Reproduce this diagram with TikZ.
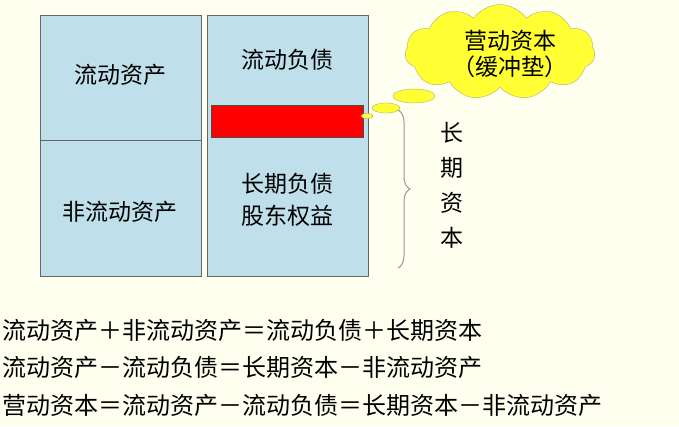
\documentclass[tikz,border=0pt]{standalone}
\usepackage{fontspec}
\setmainfont{Noto Sans CJK SC}
\usetikzlibrary{shapes.symbols,shapes.geometric,decorations.pathreplacing}
\definecolor{bg}{HTML}{FFFFF0}
\definecolor{boxc}{HTML}{BFE0EA}
\definecolor{cloudc}{HTML}{FFFF33}
\begin{document}
\begin{tikzpicture}[x=1pt,y=-1pt,
  blk/.style={draw=gray!80!black,fill=boxc,line width=0.8pt},
  lbl/.style={font=\fontsize{23}{26}\selectfont,inner sep=0pt},
  frm/.style={font=\fontsize{24}{26}\selectfont,inner sep=0pt,anchor=west},
  puff/.style={draw=gray!70!yellow,fill=cloudc,ellipse,inner sep=0pt}]
\fill[bg] (0,0) rectangle (679,426);
\useasboundingbox (0,0) rectangle (679,426);
\draw[blk] (40,15) rectangle (201,140) coordinate (lt);
\draw[blk] (40,140) rectangle (201,276);
\draw[blk] (207,15) rectangle (368,276);
\draw[draw=gray!60!black,fill=red,line width=0.8pt] (211,105) rectangle (363,137);
\node[lbl] (a) at (120,75) {流动资产};
\node[lbl] (b) at (120,212) {非流动资产};
\node[lbl] (c) at (287,60) {流动负债};
\node[lbl,align=center] (d) at (287,200) {长期负债\\[6pt]股东权益};
\node[cloud,cloud puffs=11,cloud puff arc=110,aspect=2.1,draw=gray!70!yellow,fill=cloudc,
  minimum width=190,minimum height=95,inner sep=0pt] (cl) at (500,52) {};
\node[lbl,align=center] (ct) at (510,54) {营动资本\\（缓冲垫）};
\node[puff,minimum width=12,minimum height=5] (p1) at (367,116) {};
\node[puff,minimum width=28,minimum height=10] (p2) at (386,108) {};
\node[puff,minimum width=42,minimum height=14] (p3) at (414,96) {};
\draw[gray!80,line width=1pt,decorate,decoration={brace,amplitude=12pt}] (398,110) -- (398,268);
\node[lbl,align=center,font=\fontsize{23}{35}\selectfont] (v) at (452,185) {长\\期\\资\\本};
\node[frm] (f1) at (2,330) {流动资产＋非流动资产＝流动负债＋长期资本};
\node[frm] (f2) at (2,367) {流动资产－流动负债＝长期资本－非流动资产};
\node[frm] (f3) at (2,405) {营动资本＝流动资产－流动负债＝长期资本－非流动资产};
\end{tikzpicture}
\end{document}
